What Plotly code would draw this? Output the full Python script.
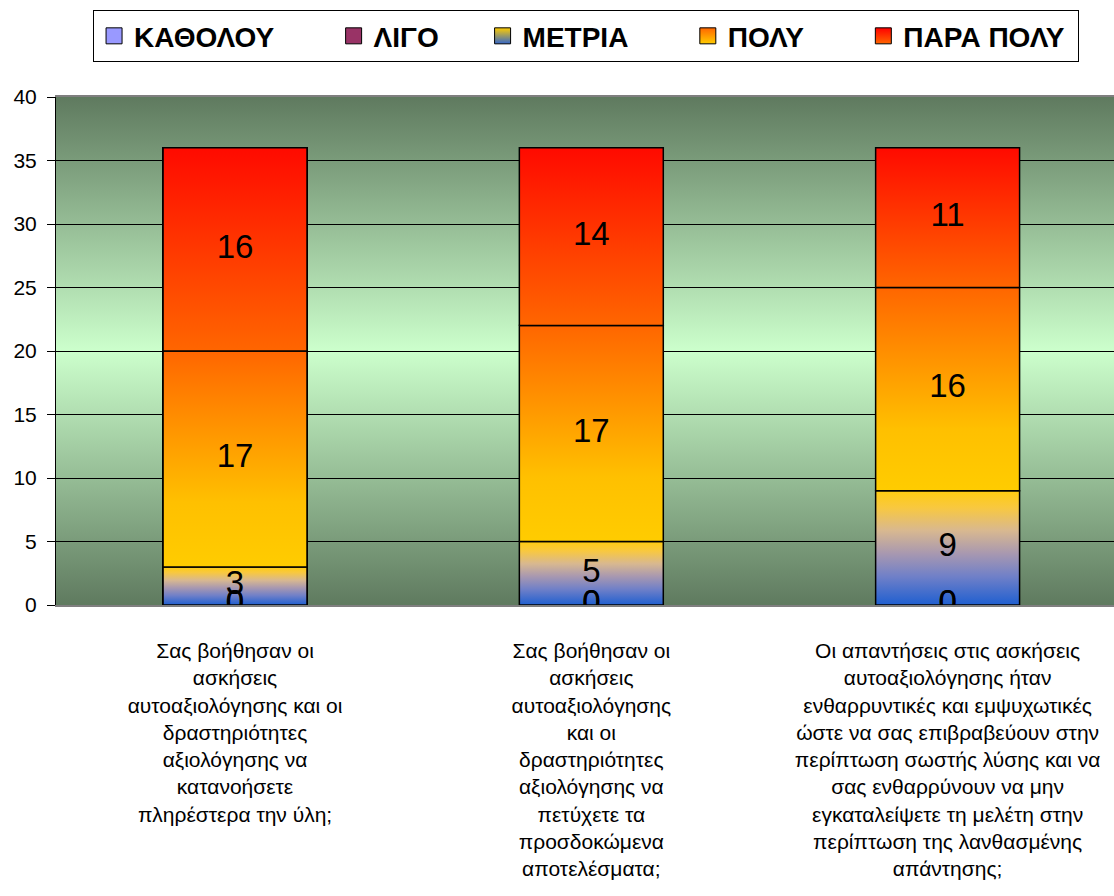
import base64
import plotly.graph_objects as go

# Survey answers per question (stacked from bottom to top)
series_names = ["ΚΑΘΟΛΟΥ", "ΛΙΓΟ", "ΜΕΤΡΙΑ", "ΠΟΛΥ", "ΠΑΡΑ ΠΟΛΥ"]
katholou = [0, 0, 0]
ligo = [0, 0, 0]
metria = [3, 5, 9]
poly = [17, 17, 16]
para_poly = [16, 14, 11]

category_lines = [
    ["Σας βοήθησαν οι", "ασκήσεις", "αυτοαξιολόγησης και οι", "δραστηριότητες",
     "αξιολόγησης να", "κατανοήσετε", "πληρέστερα την ύλη;"],
    ["Σας βοήθησαν οι", "ασκήσεις", "αυτοαξιολόγησης", "και οι", "δραστηριότητες",
     "αξιολόγησης να", "πετύχετε τα", "προσδοκώμενα", "αποτελέσματα;"],
    ["Οι απαντήσεις στις ασκήσεις", "αυτοαξιολόγησης ήταν",
     "ενθαρρυντικές και εμψυχωτικές", "ώστε να σας επιβραβεύουν στην",
     "περίπτωση σωστής λύσης και να", "σας ενθαρρύνουν να μην",
     "εγκαταλείψετε τη μελέτη στην", "περίπτωση της λανθασμένης", "απάντησης;"],
]
y_ticks = [0, 5, 10, 15, 20, 25, 30, 35, 40]

# Styling
series_values = [katholou, ligo, metria, poly, para_poly]
solid_colors = ["#9999ff", "#993366", "#e8c070", "#ffa000", "#ff4000"]
gradients = [
    [[0, "#9999ff"], [1, "#9999ff"]],
    [[0, "#993366"], [1, "#993366"]],
    [[0, "#1f5fd0"], [0.25, "#7080c8"], [0.45, "#a898b0"], [0.65, "#d8b890"],
     [0.85, "#f8c840"], [1, "#ffcc10"]],
    [[0, "#ffcc00"], [0.3, "#ffc000"], [1, "#ff6600"]],
    [[0, "#ff6600"], [1, "#ff0a00"]],
]
# legend icon: top colour, bottom colour
legend_top = ["#9999ff", "#993366", "#ffcc00", "#ff6600", "#ff0000"]
legend_bottom = ["#9999ff", "#993366", "#3366cc", "#ffcc00", "#ff6600"]
legend_pad = [7, 5, 7, 7, 1]

x_pos = [0, 1, 2]
bar_w = 0.404
label_font = dict(family="Liberation Sans, Arial", size=33, color="black")

fig = go.Figure()

# Plain stacked bars
for name, vals, col in zip(series_names, series_values, solid_colors):
    fig.add_trace(go.Bar(
        x=x_pos, y=vals, name=name, width=bar_w, showlegend=False,
        marker=dict(color=col, line=dict(color="black", width=1.5)),
        hoverinfo="skip",
    ))

# Gradient fill for each stacked segment
bases = [0, 0, 0]
label_x, label_y, label_t = [], [], []
for s, vals in enumerate(series_values):
    for i, v in enumerate(vals):
        b = bases[i]
        if v > 0:
            xl, xr = x_pos[i] - bar_w / 2, x_pos[i] + bar_w / 2
            fig.add_trace(go.Scatter(
                x=[xl, xr, xr, xl, xl], y=[b, b, b + v, b + v, b],
                mode="lines", fill="toself",
                fillgradient=dict(type="vertical", colorscale=gradients[s]),
                line=dict(color="black", width=1.5),
                showlegend=False, hoverinfo="skip",
            ))
        label_x.append(x_pos[i])
        label_y.append(b + v / 2)
        label_t.append(str(v))
        bases[i] = b + v

fig.add_trace(go.Scatter(
    x=label_x, y=label_y, text=label_t, mode="text",
    textposition="middle center", textfont=label_font,
    showlegend=False, hoverinfo="skip",
))

# Legend entries
for k, name in enumerate(series_names):
    fig.add_trace(go.Scatter(
        x=[None], y=[None], mode="markers",
        name=name + "\u00a0" * legend_pad[k],
        marker=dict(symbol="square", size=16, color=legend_top[k],
                    gradient=dict(type="vertical", color=legend_bottom[k]),
                    line=dict(color="black", width=1)),
    ))

# Plot-area background: dark-light-dark vertical gradient
svg = (
    '<svg xmlns="http://www.w3.org/2000/svg" width="100" height="100" '
    'viewBox="0 0 100 100" preserveAspectRatio="none"><defs>'
    '<linearGradient id="g" x1="0" y1="0" x2="0" y2="1">'
    '<stop offset="0" stop-color="#5f7a5f"/>'
    '<stop offset="0.5" stop-color="#ccffcc"/>'
    '<stop offset="1" stop-color="#5f7a5f"/>'
    '</linearGradient></defs>'
    '<rect width="100" height="100" fill="url(#g)"/></svg>'
)
bg_src = "data:image/svg+xml;base64," + base64.b64encode(svg.encode()).decode()

fig.update_layout(
    width=1114, height=896,
    margin=dict(l=56, r=0, t=97, b=291, pad=0),
    barmode="stack",
    paper_bgcolor="white",
    plot_bgcolor="rgba(0,0,0,0)",
    font=dict(family="Liberation Sans, Arial", color="black"),
    images=[dict(source=bg_src, xref="x domain", yref="y domain",
                 x=0, y=1, sizex=1, sizey=1, sizing="stretch",
                 xanchor="left", yanchor="top", layer="below")],
    legend=dict(
        orientation="h", x=0.501, xanchor="center", y=1.171, yanchor="top",
        traceorder="normal",
        bgcolor="white", bordercolor="black", borderwidth=1,
        font=dict(family="Liberation Sans, Arial", size=28, weight="bold"),
        itemclick=False, itemdoubleclick=False,
    ),
    xaxis=dict(
        range=[-0.5025, 2.467], tickvals=x_pos,
        ticktext=["<br>".join(lines) for lines in category_lines],
        tickfont=dict(size=21), ticks="", showgrid=False, zeroline=False,
        showline=True, linecolor="#7f7f7f", linewidth=1.5, mirror=True,
        ticklabelstandoff=26,
    ),
    yaxis=dict(
        range=[0, 40], tickvals=y_ticks, tickfont=dict(size=21),
        ticks="outside", ticklen=8, tickcolor="black",
        showline=True, linecolor="black", linewidth=1,
        showgrid=True, gridcolor="black", gridwidth=1, zeroline=False,
        ticklabelstandoff=6,
    ),
)

fig.write_html("out.html")
